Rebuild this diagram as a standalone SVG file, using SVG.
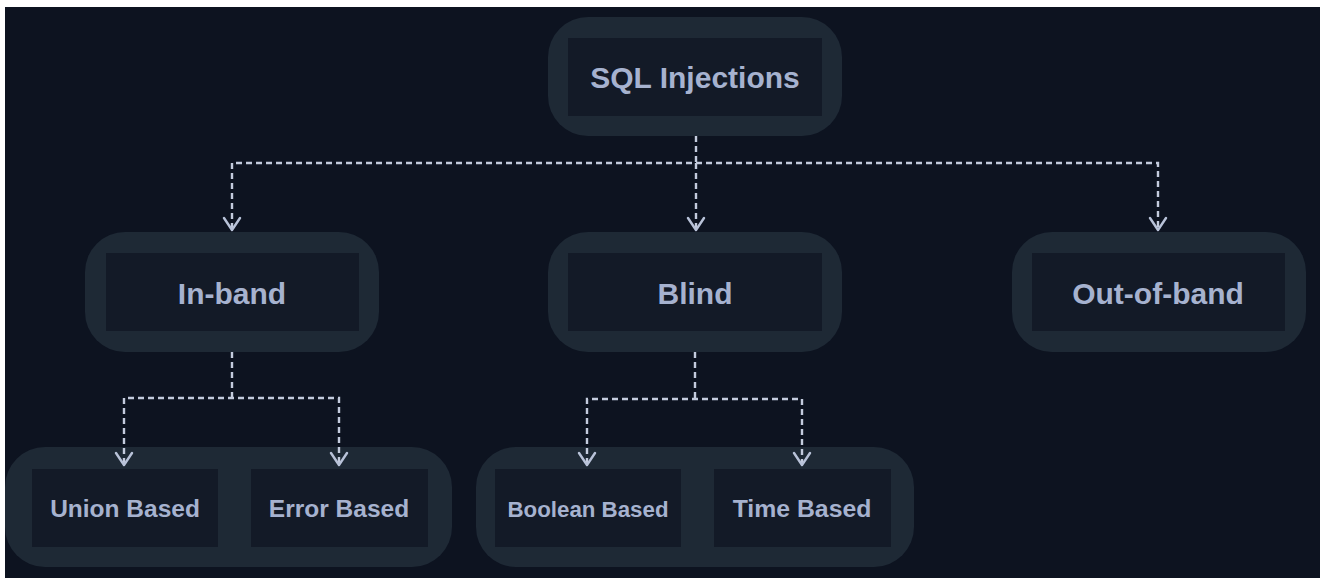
<svg xmlns="http://www.w3.org/2000/svg" width="1320" height="578" viewBox="0 0 1320 578">
<defs>
<style>
.outer{fill:#1e2935}
.inner{fill:#131a27}
.t{font-family:"Liberation Sans",Arial,sans-serif;font-weight:bold;fill:#a6b2cf;text-anchor:middle}
.c{fill:none;stroke:#c3cbdd;stroke-width:2.4;stroke-dasharray:6 4}
.ah{fill:none;stroke:#b8c2d8;stroke-width:2.4;stroke-linecap:round;stroke-linejoin:round}
</style>
</defs>
<rect x="0" y="0" width="1320" height="578" fill="#ffffff"/>
<rect x="5" y="7" width="1315" height="571" fill="#0d1320"/>

<g id="sql-injections">
<rect class="outer" x="548" y="17" width="294" height="119" rx="40"/>
<rect class="inner" x="568" y="38" width="254" height="78"/>
<text class="t" x="695" y="88" font-size="30">SQL Injections</text>
</g>

<g id="in-band">
<rect class="outer" x="85" y="232" width="294" height="120" rx="40"/>
<rect class="inner" x="106" y="253" width="253" height="78"/>
<text class="t" x="232" y="304" font-size="30">In-band</text>
</g>

<g id="blind">
<rect class="outer" x="548" y="232" width="294" height="120" rx="40"/>
<rect class="inner" x="568" y="253" width="254" height="78"/>
<text class="t" x="695" y="304" font-size="30">Blind</text>
</g>

<g id="out-of-band">
<rect class="outer" x="1012" y="232" width="294" height="120" rx="40"/>
<rect class="inner" x="1032" y="253" width="253" height="78"/>
<text class="t" x="1158" y="304" font-size="30">Out-of-band</text>
</g>

<g id="in-band-group">
<rect class="outer" x="5" y="447" width="447" height="120" rx="40"/>
</g>
<g id="union-based">
<rect class="inner" x="32" y="469" width="186" height="78"/>
<text class="t" x="125" y="517" font-size="24.5">Union Based</text>
</g>
<g id="error-based">
<rect class="inner" x="251" y="469" width="177" height="78"/>
<text class="t" x="339" y="517" font-size="24.5">Error Based</text>
</g>

<g id="blind-group">
<rect class="outer" x="476" y="447" width="438" height="120" rx="40"/>
</g>
<g id="boolean-based">
<rect class="inner" x="495" y="469" width="186" height="78"/>
<text class="t" x="588" y="517" font-size="22.3">Boolean Based</text>
</g>
<g id="time-based">
<rect class="inner" x="714" y="469" width="177" height="78"/>
<text class="t" x="802" y="517" font-size="24.8">Time Based</text>
</g>

<g id="connectors">
<path class="c" d="M696 136 V163 M232 229 V163 H1158 V229 M696 163 V229"/>
<path class="ah" d="M224 218 L232 230 L240 218 M688 218 L696 230 L704 218 M1150 218 L1158 230 L1166 218"/>
<path class="c" d="M232 352 V398 M124 464 V398 H339 V464"/>
<path class="ah" d="M116 453 L124 465 L132 453 M331 453 L339 465 L347 453"/>
<path class="c" d="M695 352 V399 M587 464 V399 H802 V464"/>
<path class="ah" d="M579 453 L587 465 L595 453 M794 453 L802 465 L810 453"/>
</g>
</svg>
